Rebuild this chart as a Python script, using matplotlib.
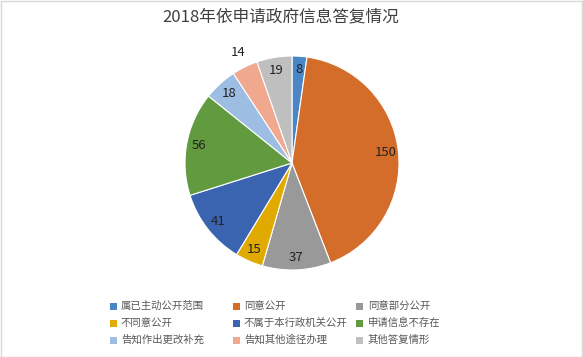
import numpy as np
import matplotlib.pyplot as plt
from matplotlib.patches import Rectangle

plt.rcParams['font.family'] = ['Noto Sans CJK SC', 'DejaVu Sans']

categories = ['属已主动公开范围', '同意公开', '同意部分公开',
              '不同意公开', '不属于本行政机关公开', '申请信息不存在',
              '告知作出更改补充', '告知其他途径办理', '其他答复情形']
values = [8, 150, 37, 15, 41, 56, 18, 14, 19]
colors = ['#4A86C5', '#D46D2A', '#999999', '#E0AA00', '#3A64B0',
          '#629B3F', '#9DBDE2', '#F0A98F', '#BFBFBF']
title = '2018年依申请政府信息答复情况'

W, H = 583, 357
fig = plt.figure(figsize=(W / 100, H / 100), dpi=100)
fig.patch.set_facecolor('white')

# pie placement in pixels
cx, cy, r = 292, 163, 107
ax = fig.add_axes([(cx - r) / W, 1 - (cy + r) / H, 2 * r / W, 2 * r / H])
wedges, _ = ax.pie(values, colors=colors, startangle=90, counterclock=False,
                   radius=1, wedgeprops=dict(edgecolor='white', linewidth=0.8))
ax.set_xlim(-1, 1)
ax.set_ylim(-1, 1)
ax.set_aspect('equal')
ax.axis('off')

# data labels, inside end (the small 14 slice sits outside)
label_r = [0.88] * len(values)
label_r[7] = 1.15
for w, v, lr in zip(wedges, values, label_r):
    mid = np.deg2rad((w.theta1 + w.theta2) / 2)
    ax.text(lr * np.cos(mid), lr * np.sin(mid), str(v), ha='center',
            va='center', fontsize=9.5, color='#222222', clip_on=False)

fig.text(281 / W, 1 - 17 / H, title, ha='center', va='center',
         fontsize=12, color='#404040')

# legend, filled row by row like Excel
col_x = [113, 236, 360]
row_y = [306, 323, 340]
sq = 7
for i, (lab, c) in enumerate(zip(categories, colors)):
    x, y = col_x[i % 3], row_y[i // 3]
    fig.add_artist(Rectangle(((x - sq / 2) / W, 1 - (y + sq / 2) / H),
                             sq / W, sq / H, transform=fig.transFigure,
                             facecolor=c, edgecolor='none'))
    fig.text((x + 8) / W, 1 - y / H, lab, ha='left', va='center',
             fontsize=7.5, color='#595959')

fig.add_artist(Rectangle((0.5 / W, 0.5 / H), 1 - 1.5 / W, 1 - 1.5 / H,
                         transform=fig.transFigure, fill=False,
                         edgecolor='#D9D9D9', linewidth=1))

fig.savefig('out.png', dpi=100, facecolor='white')
